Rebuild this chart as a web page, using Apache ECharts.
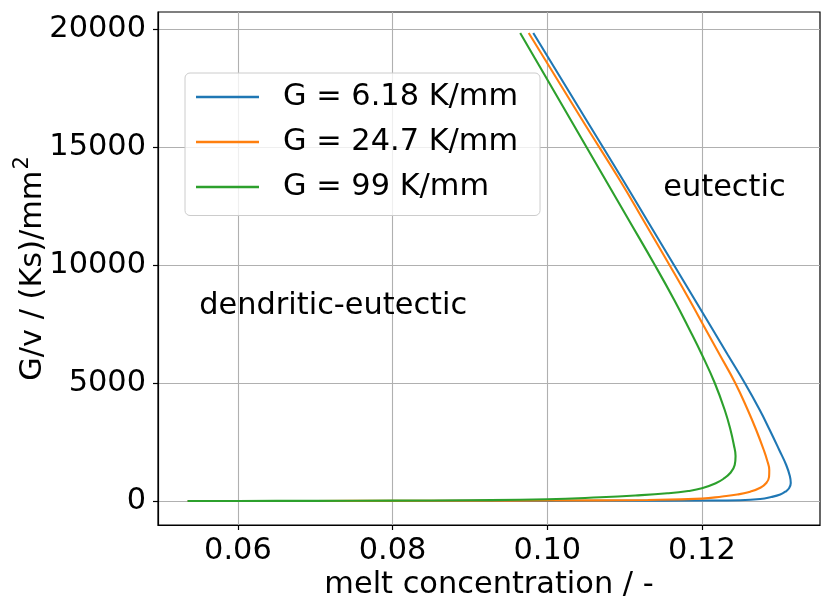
<!DOCTYPE html>
<html><head><meta charset="utf-8">
<script src="https://cdn.jsdelivr.net/npm/echarts@6/dist/echarts.min.js"></script>
<style>html,body{margin:0;padding:0;background:#fff}#c{width:831px;height:612px}</style>
</head><body><div id="c"></div>
<script>
const seriesNames = ['G = 6.18 K/mm', 'G = 24.7 K/mm', 'G = 99 K/mm'];
const seriesColors = ['#1f77b4', '#ff7f0e', '#2ca02c'];

const blue = [
  [0.09819, 19831], [0.10505, 16144], [0.10979, 13602], [0.11289, 11907],
  [0.11646, 9958], [0.1191, 8517], [0.12143, 7246], [0.12336, 6186],
  [0.12554, 5000], [0.12748, 3856], [0.12877, 3008], [0.13, 2161],
  [0.1309, 1525], [0.13137, 1059], [0.13149, 763], [0.13127, 538],
  [0.13078, 394], [0.13013, 275], [0.12896, 169], [0.12754, 85],
  [0.12495, 34], [0.12, 20], [0.11, 11], [0.10, 6], [0.09, 4],
  [0.08, 2], [0.07, 1], [0.0535, 0]
];
const orange = [
  [0.0976, 19831], [0.10452, 16144], [0.10937, 13602], [0.11241, 11907],
  [0.11588, 9958], [0.1184, 8517], [0.12053, 7246], [0.12232, 6186],
  [0.12431, 5000], [0.12593, 3856], [0.12702, 3008], [0.128, 2161],
  [0.12842, 1737], [0.12871, 1314], [0.12868, 1017], [0.12832, 763],
  [0.12761, 572], [0.12625, 394], [0.12457, 275], [0.12263, 191],
  [0.12, 100], [0.113, 45], [0.10, 22], [0.09, 12], [0.08, 6],
  [0.07, 3], [0.0535, 0]
];
const green = [
  [0.0965, 19831], [0.09891, 18475], [0.10304, 16144], [0.10754, 13602],
  [0.11054, 11907], [0.11398, 9958], [0.11642, 8517], [0.11842, 7246],
  [0.12002, 6186], [0.12166, 5000], [0.12295, 3856], [0.1237, 3008],
  [0.12413, 2373], [0.12435, 1907], [0.12424, 1525], [0.12366, 1186],
  [0.12276, 932], [0.12185, 763], [0.12, 538], [0.11823, 424],
  [0.11552, 326], [0.11138, 233], [0.10685, 157], [0.10, 72],
  [0.09, 30], [0.08, 15], [0.07, 7], [0.06, 2], [0.0535, 0]
];

const xTicks = [0.06, 0.08, 0.10, 0.12];
const yTicks = [0, 5000, 10000, 15000, 20000];
const annotTexts = ['eutectic', 'dendritic-eutectic'];
const annotPoints = [[0.115, 13000], [0.055, 8000]];

const FF = 'DejaVu Sans';
const FS = 30.4;

const chart = echarts.init(document.getElementById('c'), null, {renderer: 'canvas'});
const lineData = [blue, orange, green];

const option = {
  animation: false,
  backgroundColor: '#fff',
  grid: {left: 158, right: 11, top: 12, bottom: 87, containLabel: false, outerBoundsMode: 'none',
    show: true, borderColor: '#000', borderWidth: 1.2, backgroundColor: 'transparent'},
  xAxis: {
    type: 'value', min: 0.04966, max: 0.13527,
    name: 'melt concentration / -', nameLocation: 'middle', nameGap: 45, nameMoveOverlap: false,
    nameTextStyle: {fontFamily: FF, fontSize: FS, color: '#000'},
    axisLine: {show: true, onZero: false, lineStyle: {color: '#000', width: 1.2}},
    axisTick: {show: true, length: 5, customValues: xTicks, lineStyle: {color: '#000', width: 1.2}},
    axisLabel: {customValues: xTicks, margin: 11, fontFamily: FF, fontSize: FS, color: '#000', formatter: v => v.toFixed(2)},
    splitLine: {show: true, lineStyle: {color: '#b0b0b0', width: 1.1}}
  },
  yAxis: {
    type: 'value', min: -1017, max: 20720,
    name: '{a|G/v / (Ks)/mm}{s|2}', nameLocation: 'middle', nameGap: 110, nameMoveOverlap: false,
    nameTextStyle: {fontFamily: FF, fontSize: FS, color: '#000',
      rich: {a: {fontFamily: FF, fontSize: FS, color: '#000', verticalAlign: 'bottom'},
             s: {fontFamily: FF, fontSize: 21, color: '#000', verticalAlign: 'bottom', padding: [0, 0, 15, 1]}}},
    axisLine: {show: true, onZero: false, lineStyle: {color: '#000', width: 1.2}},
    axisTick: {show: true, length: 5, customValues: yTicks, lineStyle: {color: '#000', width: 1.2}},
    axisLabel: {customValues: yTicks, margin: 12, fontFamily: FF, fontSize: FS, color: '#000', formatter: v => String(v)},
    splitLine: {show: true, lineStyle: {color: '#b0b0b0', width: 1.1}}
  },
  legend: {
    data: seriesNames, orient: 'vertical', left: 185, top: 73,
    backgroundColor: 'rgba(255,255,255,0.8)', borderColor: '#cccccc', borderWidth: 1, borderRadius: 5,
    padding: [1.5, 22, 6, 11], itemGap: 0, itemWidth: 63, itemHeight: 2.5, icon: 'rect',
    textStyle: {fontFamily: FF, fontSize: FS, color: '#000', lineHeight: 45, padding: [0, 0, 0, 19]}
  },
  series: lineData.map((d, i) => ({
    type: 'line', name: seriesNames[i], data: d, showSymbol: false, symbol: 'none',
    smooth: 0.45, color: seriesColors[i], lineStyle: {color: seriesColors[i], width: 2.1}, z: 2 + i
  }))
};
chart.setOption(option);

const graphics = annotPoints.map((p, i) => {
  const px = chart.convertToPixel({gridIndex: 0}, p);
  return {
    type: 'text', x: px[0], y: px[1] + 9, silent: true, z: 10,
    style: {text: annotTexts[i], fill: '#000', font: FS + 'px "' + FF + '"', textAlign: 'left', textVerticalAlign: 'bottom', verticalAlign: 'bottom'}
  };
});
chart.setOption({graphic: graphics});
</script></body></html>
